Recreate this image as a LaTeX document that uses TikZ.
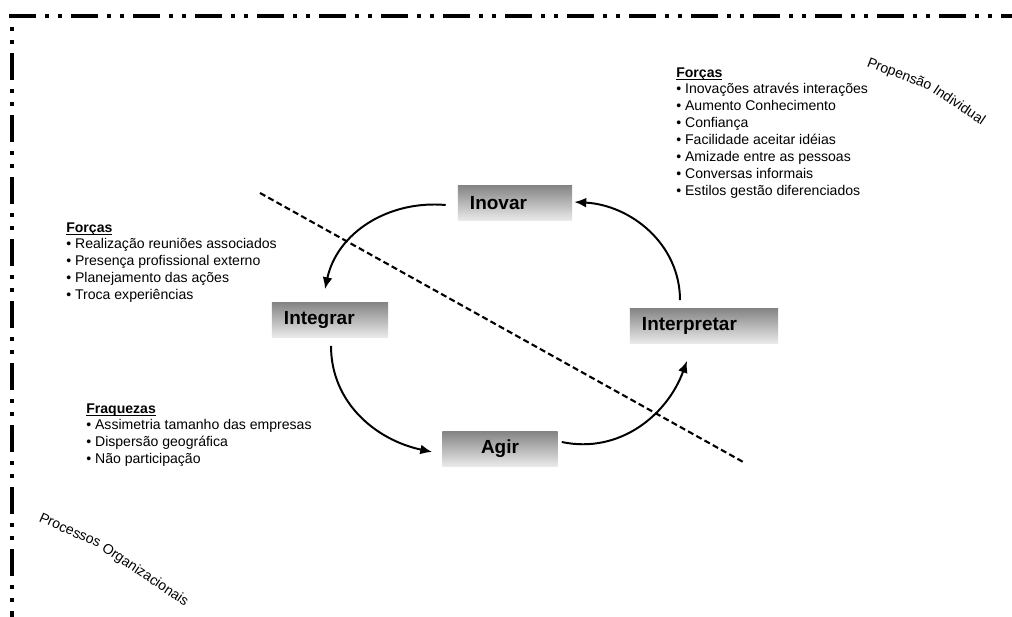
\documentclass[tikz,border=0pt]{standalone}
\usepackage{fontspec}
\setmainfont{Liberation Sans}
\usepackage{tikz}
\usetikzlibrary{positioning,calc,arrows.meta}

\newcommand{\notetitle}[1]{\strut\underline{\smash{\textbf{#1}}}}

\begin{document}
\begin{tikzpicture}[
  x=0.025cm, y=0.025cm,
  stagebox/.style={top color=black!48, bottom color=black!8, draw=none,
    minimum height=0.875cm, inner xsep=0.3cm, inner ysep=0pt, align=left,
    font=\fontsize{13.5}{16}\selectfont\bfseries},
  notes/.style={anchor=north west, inner sep=0pt, align=left,
    font=\fontsize{10}{12}\selectfont},
  caption/.style={anchor=base west, inner sep=0pt,
    font=\fontsize{10}{12}\selectfont},
  arr/.style={-{Latex[length=8.5pt,width=7pt]}, line width=1.4pt},
  frame/.style={line width=2.85pt,
    dash pattern=on 19.2pt off 6.4pt on 2.85pt off 6.4pt on 2.85pt off 6.4pt},
  split/.style={line width=1.5pt, dash pattern=on 4.3pt off 2.4pt},
]
  \useasboundingbox (0,0) rectangle (1012,-617);

  % frame
  \draw[frame] (9,-16) -- (1012,-16);
  \draw[frame, dash phase=17.8pt] (12,-16) -- (12,-617);

  % the four stages
  \node[stagebox, text width=2.25cm] (inovar) at (515,-203) {Inovar};
  \node[stagebox, text width=2.3cm] (integrar) at (330,-320) {Integrar};
  \node[stagebox, text width=2.275cm, align=center] (agir) at (500,-449) {Agir};
  \node[stagebox, text width=3.1cm] (interpretar) at (704,-326) {Interpretar};

  % cycle
  \draw[arr] ($(inovar.west)+(-12,-2)$) to[out=175, in=78] ($(integrar.north)+(-5,13)$);
  \draw[arr] ($(integrar.south)+(1,-8)$) to[out=-90, in=168] ($(agir.west)+(-10,-3)$);
  \draw[arr] ($(agir.east)+(4,7)$) to[out=-12, in=-110] ($(interpretar.south)+(-17,-17)$);
  \draw[arr] ($(interpretar.north)+(-24,8)$) to[out=90, in=-3] ($(inovar.east)+(2,1)$);

  % dividing line
  \coordinate (splittop) at (260,-193);
  \coordinate (splitbot) at (745,-463);
  \draw[split] (splittop) -- (splitbot);

  % notes
  \node[notes] (forcasind) at (676,-65)
    {\notetitle{Forças}\\
     • Inovações através interações\\
     • Aumento Conhecimento\\
     • Confiança\\
     • Facilidade aceitar idéias\\
     • Amizade entre as pessoas\\
     • Conversas informais\\
     • Estilos gestão diferenciados};
  \node[notes] (forcasorg) at (66,-220)
    {\notetitle{Forças}\\
     • Realização reuniões associados\\
     • Presença profissional externo\\
     • Planejamento das ações\\
     • Troca experiências};
  \node[notes] (fraquezas) at (86,-401)
    {\notetitle{Fraquezas}\\
     • Assimetria tamanho das empresas\\
     • Dispersão geográfica\\
     • Não participação};

  % slanted captions
  \node[caption, rotate=-21] (propensao) at (866,-66) {Propensão};
  \node[caption, rotate=-34] (individual) at (932,-92) {Individual};
  \node[caption, rotate=-24] (processos) at (38,-521) {Processos};
  \node[caption, rotate=-34] (organizacionais) at (101,-550) {Organizacionais};
\end{tikzpicture}
\end{document}
